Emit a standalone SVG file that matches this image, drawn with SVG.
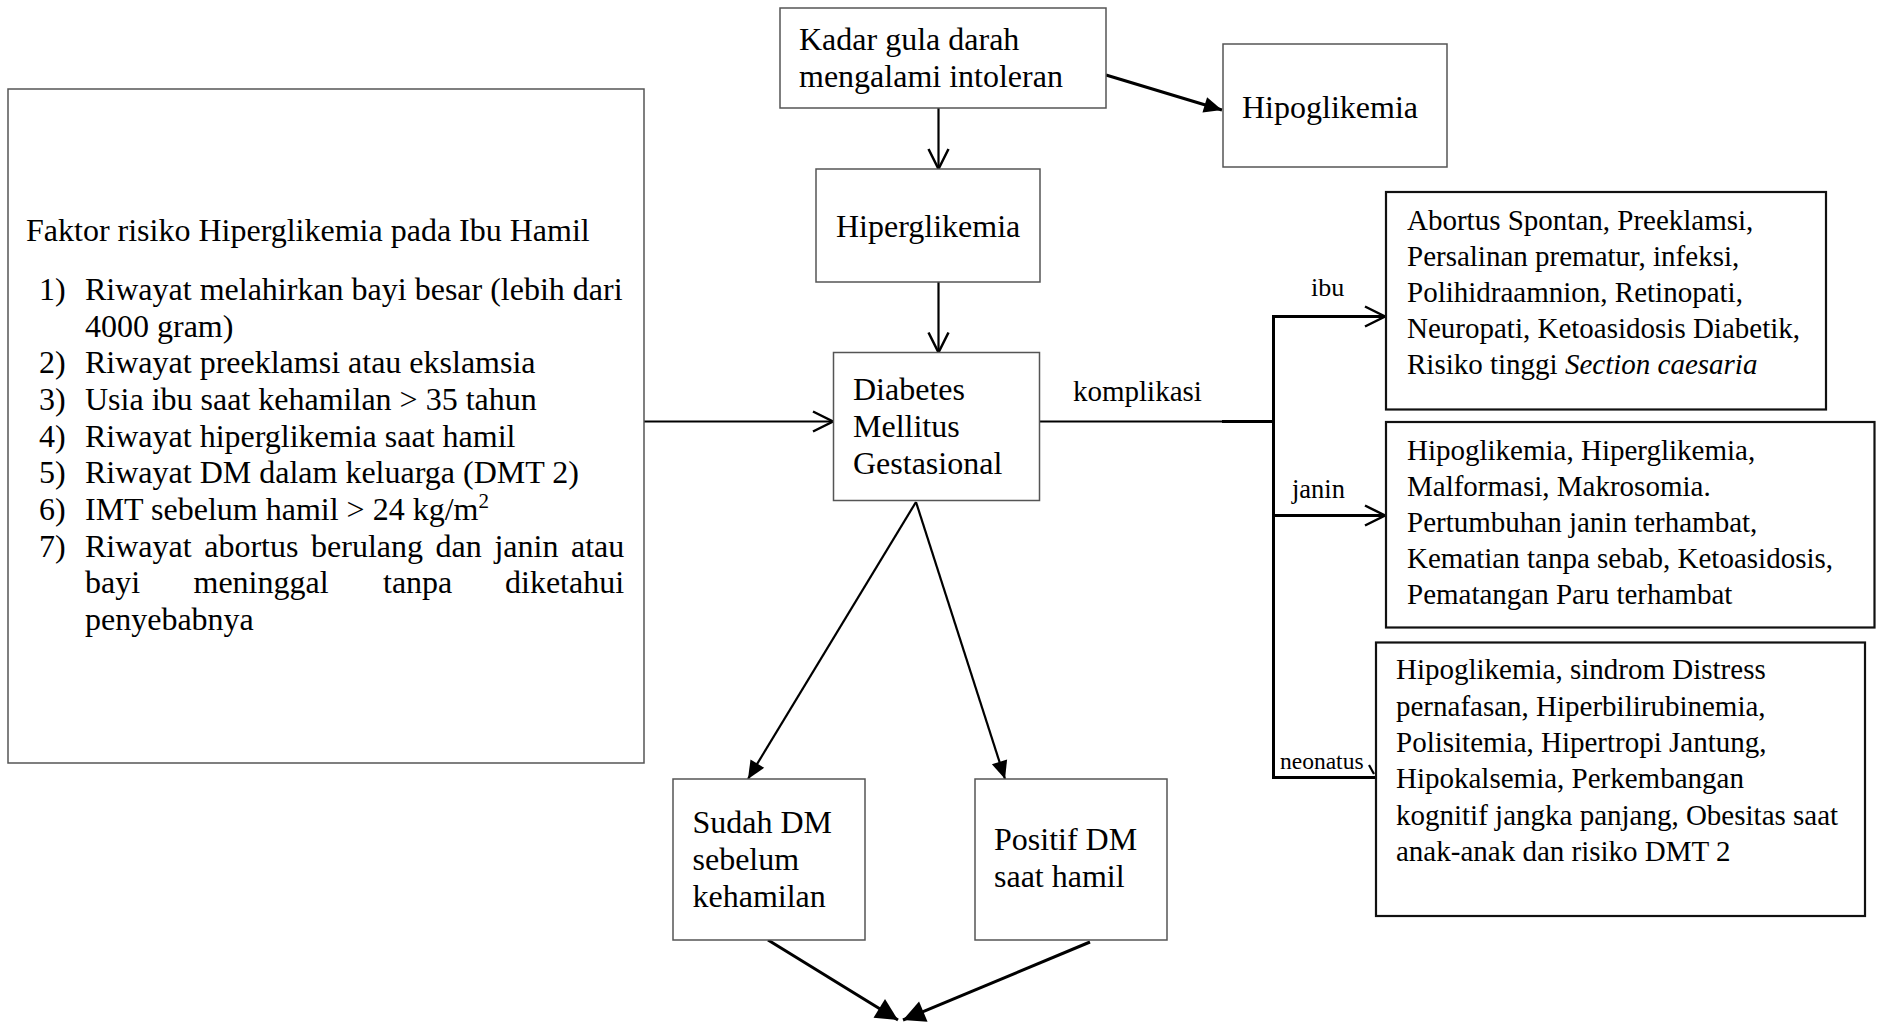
<svg xmlns="http://www.w3.org/2000/svg" width="1878" height="1023" viewBox="0 0 1878 1023">
<style>
text{font-family:"Liberation Serif","Times New Roman",serif;fill:#000;}
.t32{font-size:32px;}
.t29{font-size:29px;}
.box{fill:#fff;stroke:#555;stroke-width:1.5;}
.boxb{fill:#fff;stroke:#111;stroke-width:2.2;}
.ln{fill:none;stroke:#000;stroke-width:2.2;}
.lt{fill:none;stroke:#000;stroke-width:3;}
</style>
<defs>
<marker id="open" markerUnits="userSpaceOnUse" markerWidth="24" markerHeight="24" refX="20" refY="10" orient="auto" overflow="visible">
<path d="M0,0 L20,10 L0,20" fill="none" stroke="#000" stroke-width="2.5"/>
</marker>
<marker id="solid" markerUnits="userSpaceOnUse" markerWidth="20" markerHeight="18" refX="18" refY="8" orient="auto" overflow="visible">
<path d="M0,0 L18,8 L0,16 Z" fill="#000"/>
</marker>
<marker id="solidL" markerUnits="userSpaceOnUse" markerWidth="26" markerHeight="24" refX="22" refY="11" orient="auto" overflow="visible">
<path d="M0,0 L22,11 L0,22 Z" fill="#000"/>
</marker>
</defs>
<rect width="1878" height="1023" fill="#fff"/>

<g id="connectors">
<line class="ln" x1="938.5" y1="108" x2="938.5" y2="169" marker-end="url(#open)"/>
<line class="lt" x1="1106" y1="75" x2="1222" y2="110" marker-end="url(#solid)"/>
<line class="ln" x1="938.5" y1="282" x2="938.5" y2="352.5" marker-end="url(#open)"/>
<line class="ln" x1="644" y1="421.5" x2="833" y2="421.5" marker-end="url(#open)"/>
<line class="ln" x1="1039" y1="421.5" x2="1274" y2="421.5"/>
<line class="lt" x1="1222" y1="421.5" x2="1274" y2="421.5"/>
<polyline class="lt" points="1273.5,316.5 1273.5,777.5 1376,777.5"/>
<line class="lt" x1="1272" y1="316.5" x2="1385" y2="316.5" marker-end="url(#open)"/>
<line class="lt" x1="1273.5" y1="515.5" x2="1385" y2="515.5" marker-end="url(#open)"/>
<line class="ln" x1="1369" y1="765" x2="1374" y2="774"/>
<line class="ln" x1="916" y1="502" x2="748" y2="779" marker-end="url(#solid)"/>
<line class="ln" x1="916" y1="502" x2="1005" y2="779" marker-end="url(#solid)"/>
<line class="lt" x1="768" y1="940" x2="898" y2="1020" marker-end="url(#solidL)"/>
<line class="lt" x1="1090" y1="942" x2="903" y2="1020" marker-end="url(#solidL)"/>
</g>

<g id="faktor">
<rect class="box" x="8" y="89" width="636" height="674"/>
<text class="t32" x="26" y="241">Faktor risiko Hiperglikemia pada Ibu Hamil</text>
<text class="t32" x="39" y="300">1)</text>
<text class="t32" x="85" y="300">Riwayat melahirkan bayi besar (lebih dari</text>
<text class="t32" x="85" y="336.5">4000 gram)</text>
<text class="t32" x="39" y="373">2)</text>
<text class="t32" x="85" y="373">Riwayat preeklamsi atau ekslamsia</text>
<text class="t32" x="39" y="410">3)</text>
<text class="t32" x="85" y="410">Usia ibu saat kehamilan &gt; 35 tahun</text>
<text class="t32" x="39" y="446.5">4)</text>
<text class="t32" x="85" y="446.5">Riwayat hiperglikemia saat hamil</text>
<text class="t32" x="39" y="483">5)</text>
<text class="t32" x="85" y="483">Riwayat DM dalam keluarga (DMT 2)</text>
<text class="t32" x="39" y="520">6)</text>
<text class="t32" x="85" y="520">IMT sebelum hamil &gt; 24 kg/m<tspan font-size="21" dy="-12">2</tspan></text>
<text class="t32" x="39" y="556.5">7)</text>
<text class="t32" x="85" y="556.5" word-spacing="4.6">Riwayat abortus berulang dan janin atau</text>
<text class="t32" y="593"><tspan x="85">bayi</tspan><tspan x="193.5">meninggal</tspan><tspan x="383">tanpa</tspan><tspan x="505">diketahui</tspan></text>
<text class="t32" x="85" y="630">penyebabnya</text>
</g>

<g id="kadar">
<rect class="box" x="780" y="8" width="326" height="100"/>
<text class="t32" x="799" y="50">Kadar gula darah</text>
<text class="t32" x="799" y="87">mengalami intoleran</text>
</g>

<g id="hipoglikemia">
<rect class="box" x="1223" y="44" width="224" height="123"/>
<text class="t32" x="1242" y="118">Hipoglikemia</text>
</g>

<g id="hiperglikemia">
<rect class="box" x="816" y="169" width="224" height="113"/>
<text class="t32" x="836" y="237">Hiperglikemia</text>
</g>

<g id="dmg">
<rect class="box" x="833.5" y="352.5" width="206" height="148"/>
<text class="t32" x="853" y="400">Diabetes</text>
<text class="t32" x="853" y="436.5">Mellitus</text>
<text class="t32" x="853" y="473.5">Gestasional</text>
</g>

<g id="labels">
<text class="t29" x="1073" y="401">komplikasi</text>
<text x="1311" y="296" font-size="26">ibu</text>
<text x="1292" y="498" font-size="26.5">janin</text>
<text x="1280" y="769" font-size="23.5">neonatus</text>
</g>

<g id="ibu">
<rect class="boxb" x="1386" y="192" width="440" height="217.5"/>
<text class="t29" x="1407" y="230">Abortus Spontan, Preeklamsi,</text>
<text class="t29" x="1407" y="266">Persalinan prematur, infeksi,</text>
<text class="t29" x="1407" y="302">Polihidraamnion, Retinopati,</text>
<text class="t29" x="1407" y="338">Neuropati, Ketoasidosis Diabetik,</text>
<text class="t29" x="1407" y="374">Risiko tinggi <tspan font-style="italic">Section caesaria</tspan></text>
</g>

<g id="janin">
<rect class="boxb" x="1386" y="422" width="488.5" height="205.5"/>
<text class="t29" x="1407" y="460">Hipoglikemia, Hiperglikemia,</text>
<text class="t29" x="1407" y="496">Malformasi, Makrosomia.</text>
<text class="t29" x="1407" y="532">Pertumbuhan janin terhambat,</text>
<text class="t29" x="1407" y="568">Kematian tanpa sebab, Ketoasidosis,</text>
<text class="t29" x="1407" y="604">Pematangan Paru terhambat</text>
</g>

<g id="neonatus">
<rect class="boxb" x="1376" y="642.5" width="489" height="273.5"/>
<text class="t29" x="1396" y="679">Hipoglikemia, sindrom Distress</text>
<text class="t29" x="1396" y="715.5">pernafasan, Hiperbilirubinemia,</text>
<text class="t29" x="1396" y="752">Polisitemia, Hipertropi Jantung,</text>
<text class="t29" x="1396" y="788">Hipokalsemia, Perkembangan</text>
<text class="t29" x="1396" y="824.5">kognitif jangka panjang, Obesitas saat</text>
<text class="t29" x="1396" y="861">anak-anak dan risiko DMT 2</text>
</g>

<g id="sudah">
<rect class="box" x="673" y="779" width="192" height="161"/>
<text class="t32" x="692.5" y="833">Sudah DM</text>
<text class="t32" x="692.5" y="870">sebelum</text>
<text class="t32" x="692.5" y="907">kehamilan</text>
</g>

<g id="positif">
<rect class="box" x="975" y="779" width="192" height="161"/>
<text class="t32" x="994" y="850">Positif DM</text>
<text class="t32" x="994" y="887">saat hamil</text>
</g>
</svg>
